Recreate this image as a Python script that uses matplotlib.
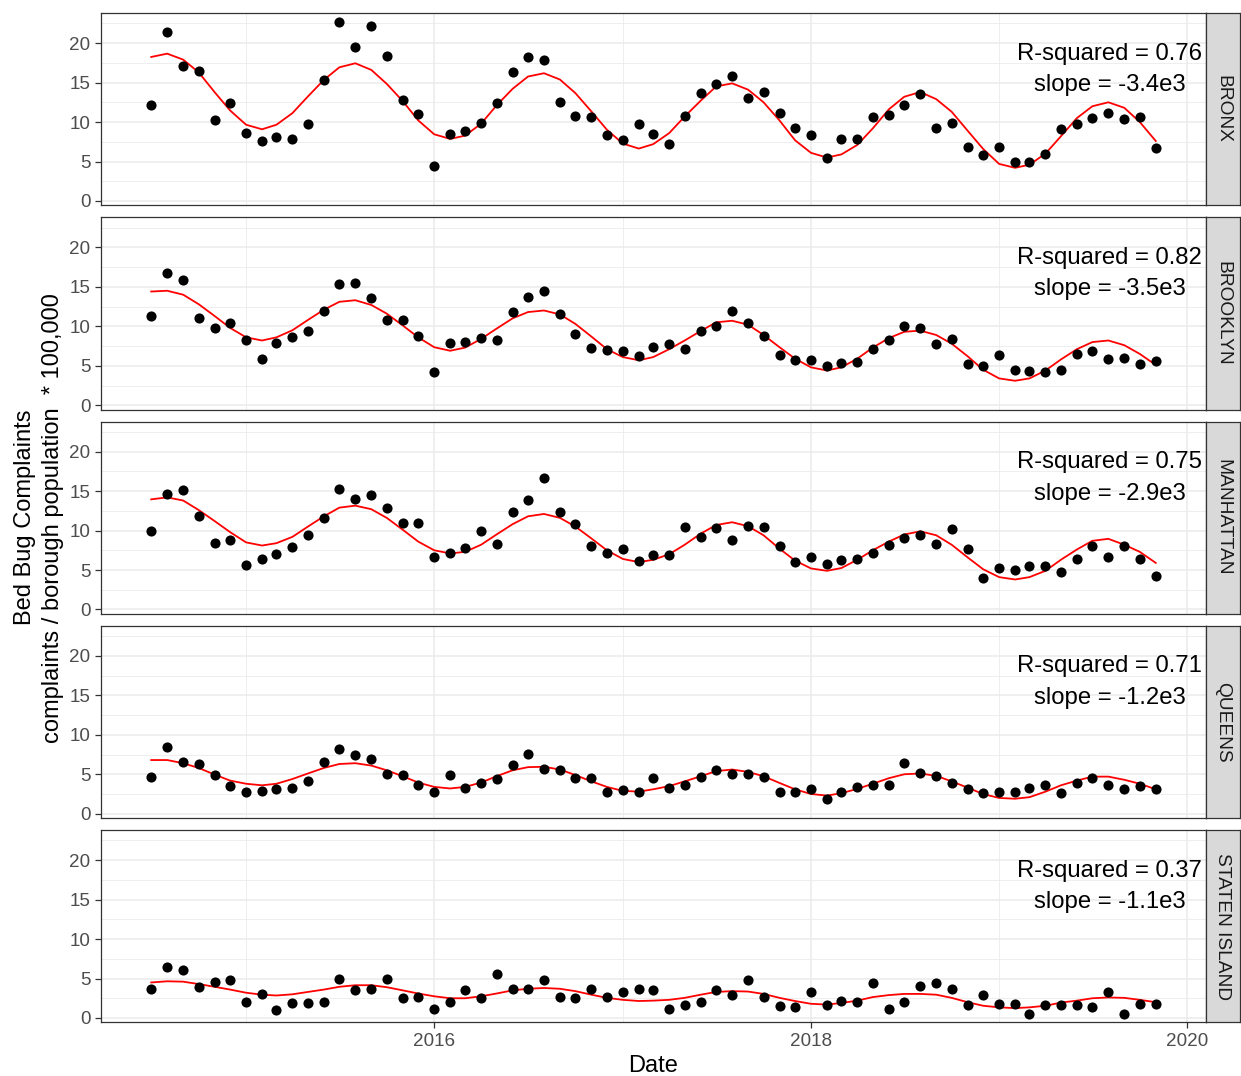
"""Faceted bed bug complaint rates by borough, with seasonal fit."""

import matplotlib

matplotlib.use("Agg")

import matplotlib.dates as mdates
import matplotlib.pyplot as plt
import numpy as np
import pandas as pd

plt.rcParams["font.family"] = ["Liberation Sans", "DejaVu Sans"]

months = pd.date_range("2014-07-01", periods=65, freq="MS")
boroughs = ["BRONX", "BROOKLYN", "MANHATTAN", "QUEENS", "STATEN ISLAND"]
r_squared = [0.76, 0.82, 0.75, 0.71, 0.37]
slopes = ["-3.4e3", "-3.5e3", "-2.9e3", "-1.2e3", "-1.1e3"]

bronx_rate = [
    12.2, 21.4, 17.1, 16.5, 10.2, 12.4, 8.6, 7.6, 8.15, 7.9,
    9.8, 15.3, 22.7, 19.5, 22.1, 18.3, 12.8, 11.0, 4.4, 8.5,
    8.9, 9.9, 12.4, 16.3, 18.2, 17.9, 12.6, 10.8, 10.6, 8.4,
    7.7, 9.8, 8.5, 7.2, 10.8, 13.7, 14.8, 15.8, 13.1, 13.8,
    11.2, 9.2, 8.3, 5.5, 7.8, 7.9, 10.6, 10.9, 12.1, 13.6,
    9.3, 9.9, 6.8, 5.8, 6.9, 5.0, 5.0, 6.0, 9.1, 9.8,
    10.5, 11.1, 10.4, 10.7, 6.7,
]
bronx_fit = [
    18.24, 18.66, 17.9, 16.3, 13.78, 11.47, 9.66, 9.08, 9.66, 11.13,
    13.24, 15.34, 16.93, 17.44, 16.6, 14.83, 12.65, 10.21, 8.45, 7.86,
    8.28, 9.79, 12.1, 14.2, 15.76, 16.18, 15.38, 13.66, 11.34, 9.03,
    7.27, 6.64, 7.2, 8.6, 10.7, 12.7, 14.5, 14.9, 14.1, 12.5,
    10.2, 7.7, 6.1, 5.5, 5.9, 7.1, 9.2, 11.6, 13.2, 13.8,
    12.9, 11.3, 8.9, 6.6, 4.7, 4.2, 4.6, 6.0, 8.2, 10.5,
    12.0, 12.5, 11.8, 10.0, 7.6,
]
brooklyn_rate = [
    11.26, 16.8, 15.9, 11.1, 9.8, 10.4, 8.3, 5.8, 7.9, 8.6,
    9.4, 11.9, 15.4, 15.5, 13.6, 10.8, 10.8, 8.8, 4.2, 7.9,
    8.0, 8.5, 8.3, 11.8, 13.7, 14.5, 11.6, 9.0, 7.3, 7.0,
    6.85, 6.2, 7.4, 7.8, 7.1, 9.4, 10.0, 11.9, 10.4, 8.8,
    6.4, 5.7, 5.7, 5.0, 5.4, 5.5, 7.1, 8.3, 10.0, 9.8,
    7.7, 8.4, 5.2, 5.0, 6.3, 4.45, 4.3, 4.2, 4.5, 6.5,
    6.85, 5.8, 6.0, 5.2, 5.6,
]
brooklyn_fit = [
    14.4, 14.5, 14.0, 12.8, 11.3, 9.8, 8.6, 8.2, 8.6, 9.5,
    10.8, 12.1, 13.1, 13.3, 12.7, 11.6, 10.1, 8.6, 7.35, 6.9,
    7.3, 8.4, 9.7, 11.0, 11.8, 12.0, 11.5, 10.3, 8.7, 7.1,
    6.1, 5.7, 6.1, 7.1, 8.2, 9.4, 10.5, 10.7, 10.2, 8.9,
    7.35, 5.9, 4.8, 4.4, 4.8, 5.9, 7.3, 8.5, 9.3, 9.45,
    8.9, 7.8, 6.2, 4.5, 3.4, 3.1, 3.4, 4.4, 5.8, 7.1,
    8.0, 8.2, 7.6, 6.5, 5.1,
]
manhattan_rate = [
    10.0, 14.6, 15.1, 11.8, 8.45, 8.8, 5.6, 6.4, 7.0, 7.9,
    9.45, 11.6, 15.25, 14.0, 14.5, 12.9, 10.9, 11.0, 6.7, 7.1,
    7.8, 9.9, 8.3, 12.4, 13.9, 16.7, 12.4, 10.8, 8.1, 7.2,
    7.6, 6.1, 6.85, 6.9, 10.5, 9.2, 10.3, 8.8, 10.6, 10.5,
    8.0, 6.0, 6.6, 5.7, 6.3, 6.4, 7.1, 8.2, 9.1, 9.45,
    8.3, 10.25, 7.7, 3.95, 5.25, 4.95, 5.5, 5.5, 4.75, 6.4,
    8.0, 6.7, 8.0, 6.4, 4.3,
]
manhattan_fit = [
    13.95, 14.2, 13.8, 12.6, 11.2, 9.8, 8.5, 8.1, 8.4, 9.2,
    10.5, 11.8, 12.9, 13.15, 12.7, 11.6, 10.1, 8.6, 7.5, 7.1,
    7.3, 8.2, 9.5, 10.8, 11.8, 12.1, 11.6, 10.5, 9.0, 7.5,
    6.4, 6.0, 6.3, 7.0, 8.2, 9.6, 10.7, 11.05, 10.55, 9.4,
    7.7, 6.2, 5.2, 4.9, 5.25, 6.3, 7.5, 8.6, 9.5, 9.9,
    9.4, 8.2, 6.6, 5.1, 4.1, 3.8, 4.1, 4.9, 6.3, 7.6,
    8.7, 8.95, 8.2, 7.3, 5.9,
]
queens_rate = [
    4.7, 8.45, 6.5, 6.3, 4.9, 3.5, 2.7, 2.9, 3.15, 3.2,
    4.2, 6.6, 8.2, 7.4, 6.9, 5.0, 4.9, 3.7, 2.7, 4.9,
    3.3, 3.9, 4.4, 6.2, 7.6, 5.7, 5.5, 4.5, 4.5, 2.8,
    3.0, 2.7, 4.5, 3.3, 3.7, 4.7, 5.5, 5.0, 5.0, 4.6,
    2.8, 2.7, 3.1, 1.9, 2.7, 3.4, 3.65, 3.65, 6.4, 5.2,
    4.8, 3.9, 3.1, 2.6, 2.7, 2.7, 3.3, 3.6, 2.6, 3.9,
    4.5, 3.7, 3.15, 3.5, 3.1,
]
queens_fit = [
    6.8, 6.8, 6.4, 5.8, 4.96, 4.2, 3.8, 3.6, 3.8, 4.4,
    5.1, 5.8, 6.3, 6.4, 6.1, 5.5, 4.75, 3.95, 3.4, 3.2,
    3.4, 3.95, 4.75, 5.5, 5.9, 5.95, 5.6, 4.9, 4.1, 3.4,
    2.9, 2.8, 3.1, 3.5, 4.1, 4.75, 5.4, 5.6, 5.3, 4.75,
    3.9, 3.1, 2.5, 2.3, 2.6, 3.15, 3.8, 4.5, 5.0, 5.1,
    4.8, 4.1, 3.3, 2.5, 2.0, 1.9, 2.1, 2.8, 3.6, 4.2,
    4.7, 4.7, 4.3, 3.8, 3.1,
]
staten_rate = [
    3.7, 6.5, 6.05, 3.95, 4.6, 4.8, 2.05, 3.1, 1.0, 1.9,
    1.9, 2.05, 5.0, 3.5, 3.7, 5.0, 2.5, 2.7, 1.2, 2.05,
    3.5, 2.5, 5.6, 3.7, 3.7, 4.8, 2.65, 2.5, 3.7, 2.7,
    3.3, 3.7, 3.5, 1.2, 1.6, 2.05, 3.5, 2.85, 4.75, 2.7,
    1.55, 1.4, 3.3, 1.6, 2.2, 2.0, 4.4, 1.2, 2.05, 4.1,
    4.4, 3.7, 1.6, 2.85, 1.8, 1.8, 0.55, 1.6, 1.6, 1.6,
    1.4, 3.3, 0.55, 1.8, 1.8,
]
staten_fit = [
    4.5, 4.65, 4.6, 4.3, 3.95, 3.6, 3.2, 2.95, 2.85, 3.0,
    3.3, 3.6, 3.95, 4.15, 4.15, 3.9, 3.5, 3.1, 2.75, 2.5,
    2.5, 2.75, 3.1, 3.5, 3.7, 3.8, 3.7, 3.4, 2.95, 2.55,
    2.3, 2.15, 2.2, 2.3, 2.55, 2.95, 3.3, 3.4, 3.35, 3.05,
    2.55, 2.15, 1.8, 1.7, 1.9, 2.2, 2.65, 2.9, 3.05, 3.05,
    2.95, 2.55, 2.0, 1.55, 1.35, 1.25, 1.35, 1.55, 1.95, 2.2,
    2.5, 2.6, 2.55, 2.3, 2.0,
]

rates = [bronx_rate, brooklyn_rate, manhattan_rate, queens_rate, staten_rate]
fits = [bronx_fit, brooklyn_fit, manhattan_fit, queens_fit, staten_fit]

W, H = 1241, 1076
fig = plt.figure(figsize=(W / 100, H / 100), dpi=100)

# panel geometry in pixels
left_px, right_px = 101, 1206
strip_w = 34
top0, panel_h, step = 13, 192.4, 204.25

x = mdates.date2num(months.to_pydatetime())
xpad = 0.05 * (x.max() - x.min())
allv = np.concatenate([np.asarray(v) for v in rates + fits])
ypad = 0.05 * (allv.max() - allv.min())
ylim = (allv.min() - ypad, allv.max() + ypad)

major_x = [mdates.date2num(pd.Timestamp(f"{y}-01-01")) for y in (2016, 2018, 2020)]
minor_x = [mdates.date2num(pd.Timestamp(f"{y}-01-01")) for y in (2015, 2017, 2019)]

border = "#333333"
grid = "#EBEBEB"

for k, name in enumerate(boroughs):
    top = top0 + k * step
    bottom = 1 - (top + panel_h) / H
    ax = fig.add_axes([left_px / W, bottom, (right_px - left_px) / W, panel_h / H])

    ax.plot(months, fits[k], color="#FF0000", lw=1.3, zorder=3)
    ax.plot(months, rates[k], "o", color="black", ms=7.3, mec="none", zorder=4)

    ax.set_xlim(x.min() - xpad, x.max() + xpad)
    ax.set_ylim(*ylim)
    ax.set_xticks(major_x)
    ax.set_xticks(minor_x, minor=True)
    ax.set_yticks([0, 5, 10, 15, 20])
    ax.set_yticks([2.5, 7.5, 12.5, 17.5, 22.5], minor=True)
    ax.set_axisbelow(True)
    ax.grid(which="major", color=grid, lw=1.15)
    ax.grid(which="minor", color=grid, lw=0.6)
    for sp in ax.spines.values():
        sp.set_color(border)
        sp.set_linewidth(0.9)
    ax.tick_params(which="minor", length=0)
    ax.tick_params(which="major", length=4.3, width=0.9, color=border,
                   labelcolor="#4D4D4D", labelsize=13.6, pad=3.4)
    if k < len(boroughs) - 1:
        ax.tick_params(axis="x", which="major", length=0, labelbottom=False)
    else:
        ax.set_xticklabels(["2016", "2018", "2020"])

    ax.text(0.9964, 0.707, f"R-squared = {r_squared[k]:.2f}\nslope = {slopes[k]}",
            transform=ax.transAxes, ha="right", va="center", multialignment="center",
            fontsize=17.2, linespacing=1.55, color="black", zorder=5)

    sax = fig.add_axes([right_px / W, bottom, strip_w / W, panel_h / H])
    sax.set_facecolor("#D9D9D9")
    sax.set_xticks([])
    sax.set_yticks([])
    for sp in sax.spines.values():
        sp.set_color(border)
        sp.set_linewidth(0.9)
    sax.text(0.5, 0.5, name, rotation=270, ha="center", va="center",
             fontsize=13.8, color="#1A1A1A", transform=sax.transAxes)

fig.text((left_px + right_px) / 2 / W, 1 - 1066 / H, "Date",
         ha="center", va="center", fontsize=17)
mid_y = 1 - (top0 + (4 * step + panel_h) / 2) / H
fig.text(39 / W, mid_y,
         "Bed Bug Complaints\ncomplaints / borough population  * 100,000",
         rotation=90, ha="center", va="center", multialignment="center",
         fontsize=17, linespacing=1.35)

fig.savefig("out.png", dpi=100, facecolor="white")
